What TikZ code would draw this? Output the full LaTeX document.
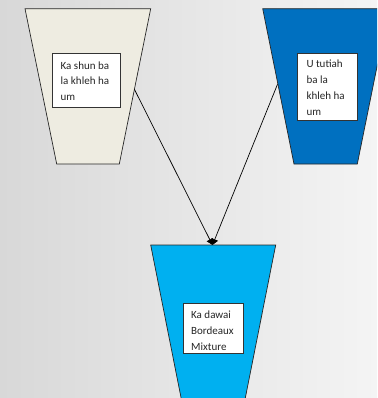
\documentclass[tikz,border=0pt]{standalone}
\usepackage{fontspec}
\setmainfont{Carlito}
\usetikzlibrary{arrows.meta}
\definecolor{bgL}{RGB}{216,216,216}
\definecolor{bgR}{RGB}{244,244,244}
\definecolor{beige}{RGB}{238,236,225}
\definecolor{dblue}{RGB}{0,112,192}
\definecolor{lblue}{RGB}{0,176,240}
\tikzset{
  funnel/.style={draw=black!85, line width=0.7pt},
  labelbox/.style={draw=black!80, fill=white, line width=0.6pt},
  labeltext/.style={anchor=north west, inner sep=0pt, align=left, text=black!85,
    font=\fontsize{11}{15.8}\selectfont},
  conn/.style={draw=black, line width=0.7pt, -{Triangle[length=6pt,width=7pt]}}
}
\begin{document}
\begin{tikzpicture}[x=1pt,y=-1pt]
\useasboundingbox (0,0) rectangle (377,398);
\clip (0,0) rectangle (377,398);
\shade[left color=bgL, right color=bgR] (0,0) rectangle (377,398);
% funnels
\draw[funnel, fill=beige] (25,8.7) -- (150.7,8.7) -- (119.3,164) -- (56.7,164) -- cycle;
\draw[funnel, fill=dblue] (262.7,8.7) -- (388.7,8.7) -- (357.3,164) -- (294,164) -- cycle;
\draw[funnel, fill=lblue] (150.7,245) -- (275.7,245) -- (244.7,401) -- (181.7,401) -- cycle;
% label boxes
\draw[labelbox] (52.3,53.3) rectangle (120.7,107.3);
\node[labeltext] (tl) at (60.5,61.3) {Ka shun ba\\la khleh ha\\um};
\draw[labelbox] (297.3,53.3) rectangle (357.3,120.7);
\node[labeltext] (tr) at (306.3,60.1) {U tutiah\\ba la\\khleh ha\\um};
\draw[labelbox] (183,303.7) rectangle (243.3,353.7);
\node[labeltext] (tb) at (191,310.6) {Ka dawai\\Bordeaux\\Mixture};
% connectors
\coordinate (Lout) at (134.4,89.3);
\coordinate (Rout) at (277.5,84.3);
\coordinate (Bin) at (212.5,245);
\draw[conn] (Lout) -- (Bin);
\draw[conn] (Rout) -- (Bin);
\end{tikzpicture}
\end{document}
